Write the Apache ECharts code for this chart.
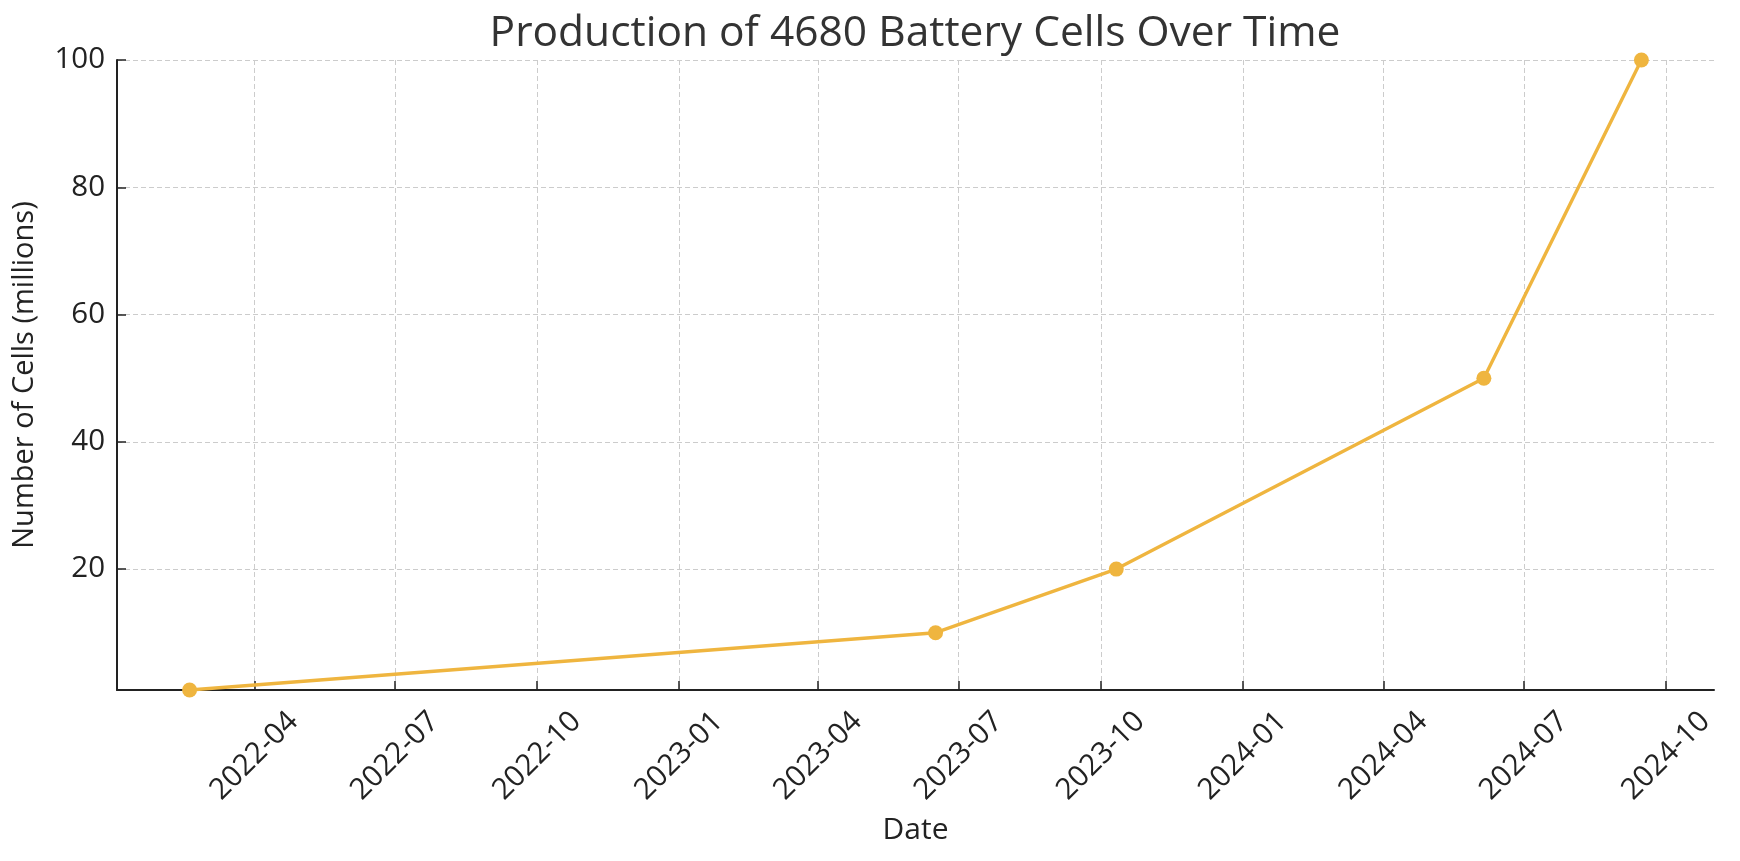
<!DOCTYPE html>
<html>
<head>
<meta charset="utf-8">
<script src="https://cdn.jsdelivr.net/npm/echarts@6/dist/echarts.min.js"></script>
<style>
html,body{margin:0;padding:0;background:#fff;}
#chart{width:1740px;height:861px;}
</style>
</head>
<body>
<div id="chart"></div>
<script>
// Data
const dates = ['2022-02-18', '2023-06-16', '2023-10-11', '2024-06-05', '2024-09-15'];
const cells = [1, 10, 20, 50, 100];
const xTickDates = ['2022-04-01', '2022-07-01', '2022-10-01', '2023-01-01', '2023-04-01', '2023-07-01',
                    '2023-10-01', '2024-01-01', '2024-04-01', '2024-07-01', '2024-10-01'];
const yTicks = [20, 40, 60, 80, 100];
const titleText = 'Production of 4680 Battery Cells Over Time';
const xName = 'Date';
const yName = 'Number of Cells (millions)';

const ts = dates.map(d => Date.parse(d));
const xTicks = xTickDates.map(d => Date.parse(d));
const span = ts[ts.length - 1] - ts[0];
const xMin = ts[0] - span * 0.05;
const xMax = ts[ts.length - 1] + span * 0.05;
const seriesData = ts.map((t, i) => [t, cells[i]]);

function fmt(v) {
  const d = new Date(v);
  const m = d.getUTCMonth() + 1;
  return d.getUTCFullYear() + '-' + (m < 10 ? '0' + m : m);
}

const FONT = 'Open Sans';
const chart = echarts.init(document.getElementById('chart'), null, {renderer: 'canvas'});
chart.setOption({
  animation: false,
  backgroundColor: '#ffffff',
  title: {
    text: titleText,
    left: 910,
    top: 7,
    textAlign: 'center',
    textStyle: {fontFamily: FONT, fontSize: 42.5, fontWeight: 'normal', color: '#333333'}
  },
  grid: {left: 117, right: 26, top: 60, bottom: 171, containLabel: false},
  xAxis: {
    type: 'value',
    min: xMin,
    max: xMax,
    name: xName,
    nameLocation: 'middle',
    nameGap: 125,
    nameTextStyle: {fontFamily: FONT, fontSize: 30, color: '#222222'},
    axisLine: {show: true, lineStyle: {color: '#222222', width: 2}},
    axisTick: {show: true, inside: true, length: 9, lineStyle: {color: '#222222', width: 1.5}, customValues: xTicks},
    axisLabel: {
      customValues: xTicks,
      rotate: 45,
      align: 'center',
      verticalAlign: 'middle',
      margin: 66,
      fontFamily: FONT,
      fontSize: 29.5,
      color: '#222222',
      formatter: fmt
    },
    splitLine: {show: true, lineStyle: {color: '#cccccc', width: 1, type: [5, 3]}}
  },
  yAxis: {
    type: 'value',
    min: 1,
    max: 100,
    name: yName,
    nameLocation: 'middle',
    nameGap: 78,
    nameTextStyle: {fontFamily: FONT, fontSize: 29, color: '#222222'},
    axisLine: {show: true, lineStyle: {color: '#222222', width: 2}},
    axisTick: {show: true, inside: true, length: 9, lineStyle: {color: '#222222', width: 1.5}, customValues: yTicks},
    axisLabel: {
      customValues: yTicks,
      margin: 12,
      fontFamily: FONT,
      fontSize: 29.5,
      color: '#222222'
    },
    splitLine: {show: true, lineStyle: {color: '#cccccc', width: 1, type: [5, 3]}}
  },
  series: [{
    type: 'line',
    data: seriesData,
    symbol: 'circle',
    symbolSize: 15,
    clip: false,
    lineStyle: {color: '#EFB53F', width: 3.4},
    itemStyle: {color: '#EFB53F'}
  }]
});
</script>
</body>
</html>
